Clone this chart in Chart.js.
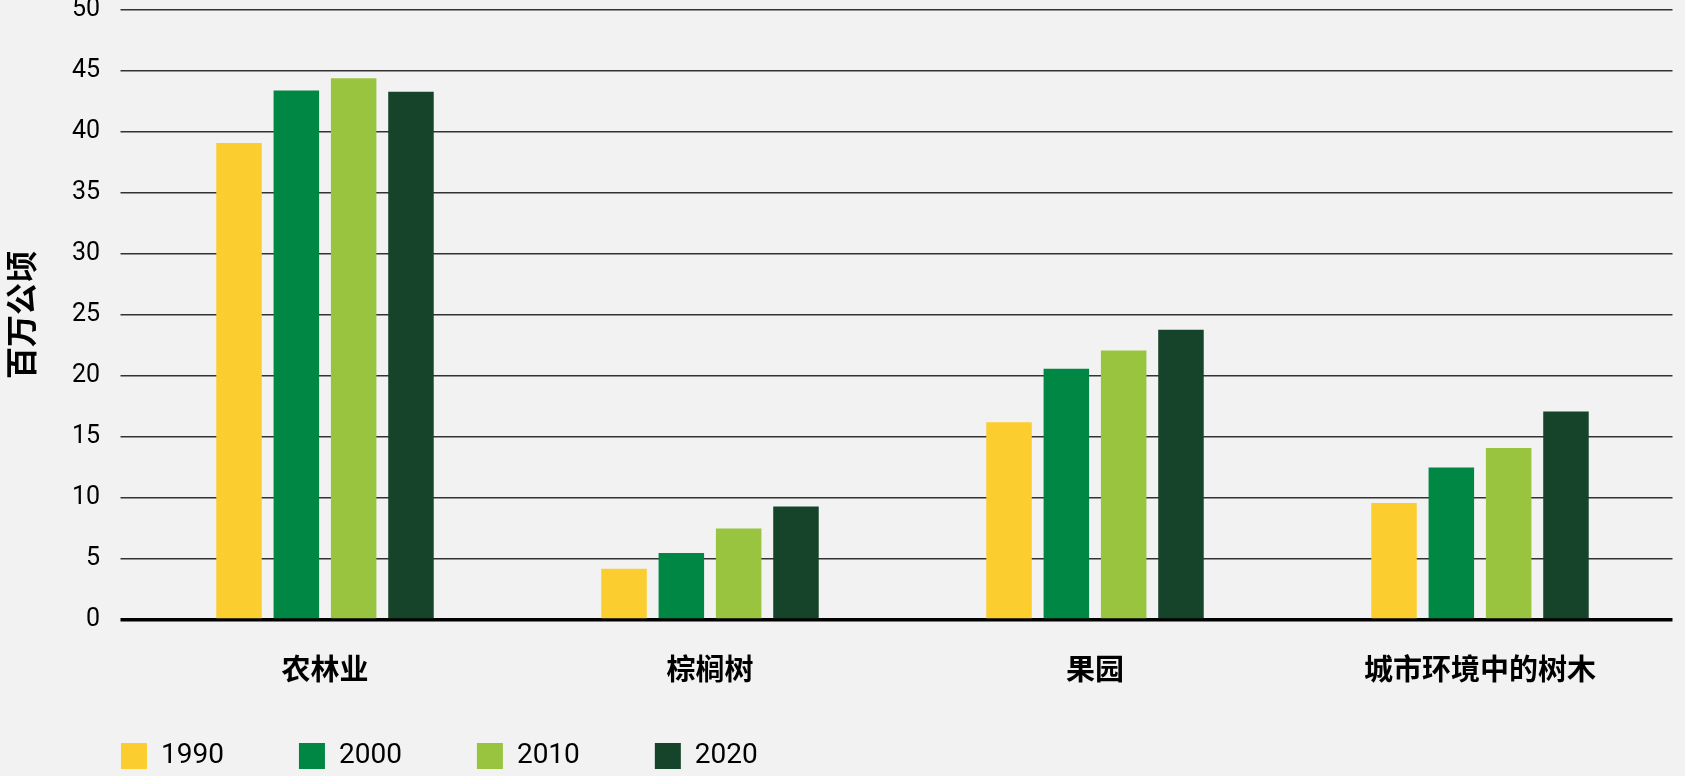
<!DOCTYPE html>
<html lang="zh">
<head>
<meta charset="utf-8">
<title>百万公顷</title>
<script src="https://cdn.jsdelivr.net/npm/chart.js@4/dist/chart.umd.min.js"></script>
<style>
  html, body { margin: 0; padding: 0; background: #f2f2f2; }
  #wrap { width: 1685px; height: 776px; position: relative; }
</style>
</head>
<body>
<div id="wrap"><canvas id="treeChart"></canvas></div>
<script>
// Données du graphique
const categories = ['农林业', '棕榈树', '果园', '城市环境中的树木'];
const years = ['1990', '2000', '2010', '2020'];
const values1990 = [39.1, 4.2, 16.2, 9.6];
const values2000 = [43.4, 5.5, 20.6, 12.5];
const values2010 = [44.4, 7.5, 22.1, 14.1];
const values2020 = [43.3, 9.3, 23.8, 17.1];
const yTicks = [0, 5, 10, 15, 20, 25, 30, 35, 40, 45, 50];

const colors = ['#fccd2f', '#008744', '#99c43f', '#15442b'];
const series = [values1990, values2000, values2010, values2020];

const latinFont = 'Roboto, "Liberation Sans", sans-serif';
const cjkFont = '"Noto Sans CJK SC", "Noto Sans", sans-serif';

// Espacement de la légende (distance entre deux entrées)
const LEGEND_PAD = 75;

/**
 * Place la légende en bas à gauche, comme sur l'original
 */
const legendPlacer = {
  id: 'legendPlacer',
  afterLayout(chart) {
    const lg = chart.legend;
    if (!lg) return;
    lg.left = 121 - LEGEND_PAD;
    lg.top = 742 - LEGEND_PAD;
  }
};

const ctx = document.getElementById('treeChart').getContext('2d');

new Chart(ctx, {
  type: 'bar',
  data: {
    labels: categories,
    datasets: years.map((year, i) => ({
      label: year,
      data: series[i],
      backgroundColor: colors[i],
      borderWidth: 0,
      categoryPercentage: 0.5955,
      barPercentage: 0.794
    }))
  },
  options: {
    responsive: true,
    maintainAspectRatio: false,
    animation: false,
    layout: {
      padding: { top: 10, right: 12.5, bottom: 0, left: 0 }
    },
    plugins: {
      tooltip: { enabled: false },
      legend: {
        position: 'bottom',
        align: 'start',
        maxHeight: 60,
        labels: {
          boxWidth: 26,
          boxHeight: 26,
          padding: LEGEND_PAD,
          color: '#000',
          font: { family: latinFont, size: 28 }
        }
      }
    },
    scales: {
      x: {
        grid: { display: false, drawTicks: false },
        border: { display: false },
        ticks: {
          color: '#000',
          padding: 32,
          maxRotation: 0,
          font: { family: cjkFont, size: 29, weight: 'bold' }
        },
        afterFit: (scale) => {
          scale.height = 96;
          scale.paddingLeft = 0;
          scale.paddingRight = 0;
        }
      },
      y: {
        min: 0,
        max: 50,
        afterBuildTicks: (scale) => {
          scale.ticks = yTicks.map(v => ({ value: v }));
        },
        grid: {
          color: (c) => (c.tick && c.tick.value === 0 ? '#000' : '#333'),
          lineWidth: (c) => (c.tick && c.tick.value === 0 ? 3.5 : 1.5),
          drawTicks: true,
          tickLength: 12
        },
        border: { display: false },
        ticks: {
          color: '#000',
          padding: 20.5,
          font: { family: latinFont, size: 25 }
        },
        title: {
          display: true,
          text: '百万公顷',
          color: '#000',
          padding: { top: 2, bottom: 0 },
          font: { family: cjkFont, size: 32, weight: 'bold' }
        },
        afterFit: (scale) => {
          scale.width = 132.5;
          scale.paddingTop = 0;
          scale.paddingBottom = 0;
        }
      }
    }
  },
  plugins: [legendPlacer]
});
</script>
</body>
</html>
